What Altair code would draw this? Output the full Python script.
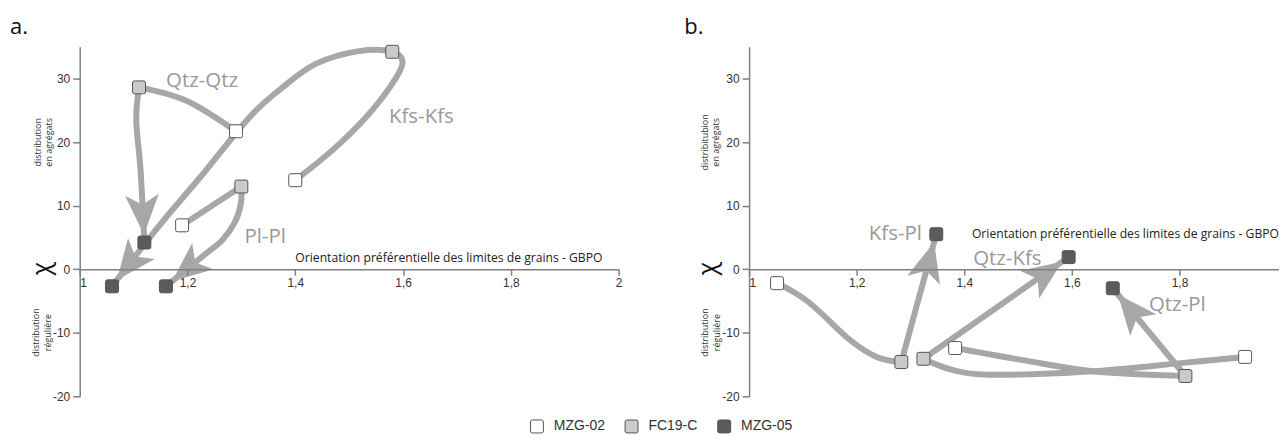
import math
import altair as alt
import pandas as pd

# ---------------- data ----------------
SAMPLES = ["MZG-02", "FC19-C", "MZG-05"]
SAMPLE_FILLS = ["#ffffff", "#c9cacd", "#5b5b5b"]

# panel a : GBPO (x) and chi (y) of each sample for the three pairs
A_MZG02_X = [1.19, 1.29, 1.40]
A_MZG02_Y = [6.9, 21.7, 14.0]
A_FC19C_X = [1.11, 1.30, 1.58]
A_FC19C_Y = [28.6, 13.0, 34.2]
A_MZG05_X = [1.12, 1.06, 1.16]
A_MZG05_Y = [4.2, -2.7, -2.7]

# panel b
B_MZG02_X = [1.052, 1.383, 1.922]
B_MZG02_Y = [-2.2, -12.4, -13.8]
B_FC19C_X = [1.283, 1.324, 1.811]
B_FC19C_Y = [-14.6, -14.1, -16.8]
B_MZG05_X = [1.348, 1.594, 1.676]
B_MZG05_Y = [5.5, 1.9, -3.0]

# path waypoints of the connecting curves
A_QTZ_QTZ_1 = [(1.29, 21.7), (1.198, 26.5), (1.11, 28.6)]
A_QTZ_QTZ_2 = [(1.11, 28.6), (1.105, 23.4), (1.113, 15.5), (1.12, 4.2)]
A_KFS_KFS = [(1.40, 14.0), (1.468, 18.65), (1.530, 23.8), (1.577, 28.8), (1.599, 32.4),
             (1.58, 34.2), (1.518, 34.3), (1.438, 32.3), (1.375, 28.5), (1.314, 23.8),
             (1.222, 14.3), (1.148, 6.9), (1.06, -2.7)]
A_PL_PL_1 = [(1.19, 6.9), (1.30, 13.0)]
A_PL_PL_2 = [(1.30, 13.0), (1.299, 10.3), (1.288, 7.4), (1.264, 4.5), (1.235, 2.5), (1.16, -2.7)]

B_KFS_PL_1 = [(1.052, -2.2), (1.111, -5.2), (1.187, -11.1), (1.237, -13.8), (1.283, -14.6)]
B_KFS_PL_2 = [(1.283, -14.6), (1.348, 5.5)]
B_QTZ_KFS_1 = [(1.922, -13.8), (1.811, -14.7), (1.631, -16.1), (1.446, -16.6), (1.376, -15.8), (1.324, -14.1)]
B_QTZ_KFS_2 = [(1.324, -14.1), (1.594, 1.9)]
B_QTZ_PL_1 = [(1.383, -12.4), (1.509, -14.3), (1.644, -16.1), (1.811, -16.8)]
B_QTZ_PL_2 = [(1.811, -16.8), (1.676, -3.0)]

A_PAIRS = ["Qtz-Qtz", "Kfs-Kfs", "Pl-Pl"]
A_PAIR_X = [1.227, 1.634, 1.344]
A_PAIR_Y = [29.6, 24.0, 5.0]
B_PAIRS = ["Kfs-Pl", "Qtz-Kfs", "Qtz-Pl"]
B_PAIR_X = [1.272, 1.480, 1.796]
B_PAIR_Y = [5.5, 1.6, -5.6]

X_TICKS_A = [1, 1.2, 1.4, 1.6, 1.8, 2]
X_TICKS_B = [1, 1.2, 1.4, 1.6, 1.8]
Y_TICKS = [-20, -10, 0, 10, 20, 30]
GBPO_TITLE = "Orientation préférentielle des limites de grains - GBPO"

# ---------------- styling ----------------
ARROW_COL = "#a7a7a7"
LABEL_COL = "#999999"
AXIS_COL = "#808080"
MYRIAD = "'Open Sans', 'Noto Sans', sans-serif"
NARROW = "'Liberation Sans Narrow', 'Liberation Sans', Arial, sans-serif"
ROUNDED = ("M-1,-0.7 Q-1,-1 -0.7,-1 L0.7,-1 Q1,-1 1,-0.7 L1,0.7 Q1,1 0.7,1 "
           "L-0.7,1 Q-1,1 -1,0.7 Z")
ARROW_HEAD = "M0,8 L17,48 L0,38 L-17,48 Z"

H = 351
Y_DOM = [-20, 35]
KY = H / (Y_DOM[1] - Y_DOM[0])


def points_frame(xs_list, ys_list):
    rows = []
    for s, xs, ys in zip(SAMPLES, xs_list, ys_list):
        for x, y in zip(xs, ys):
            rows.append({"x": x, "y": y, "sample": s})
    return pd.DataFrame(rows)


def seg_frame(segs):
    rows = []
    for k, pts in enumerate(segs):
        for i, (x, y) in enumerate(pts):
            rows.append({"seg": k, "i": i, "x": x, "y": y})
    return pd.DataFrame(rows)


def arrow_frame(segs, kx):
    rows = []
    for pts in segs:
        (x1, y1), (x2, y2) = pts[-2], pts[-1]
        dx = (x2 - x1) * kx
        dy = -(y2 - y1) * KY
        ang = math.degrees(math.atan2(dx, -dy)) % 360
        rows.append({"x": x2, "y": y2, "angle": ang})
    return pd.DataFrame(rows)


def side_text(text, x, y):
    return alt.Chart(pd.DataFrame({"k": [0]})).mark_text(
        text=text, font=MYRIAD, fontSize=9, color="#333333", angle=270,
        align="center", baseline="middle"
    ).encode(x=alt.value(x), y=alt.value(y))


def panel(pts_df, segs, arrow_segs, pairs, pair_x, pair_y, xmax, width, ticks,
          gbpo_x, gbpo_y, letter, side_top, lx, side_x):
    kx = width / (xmax - 1)
    xs = alt.Scale(domain=[1, xmax], nice=False, zero=False)
    ys = alt.Scale(domain=Y_DOM, nice=False, zero=False)
    x_axis = alt.Axis(values=ticks, title=None, orient="bottom",
                      offset=-(0 - Y_DOM[0]) * KY, tickSize=6, labelPadding=2,
                      labelFlush=False, zindex=1,
                      labelExpr="replace(format(datum.value, '~g'), '.', ',')",
                      labelAlign={"condition": {"test": "datum.value == 1", "value": "left"},
                                  "value": "center"})
    y_axis = alt.Axis(values=Y_TICKS, title=None, tickSize=7, labelPadding=3,
                      labelExpr="'' + datum.value")
    X = alt.X("x:Q", scale=xs, axis=x_axis)
    Y = alt.Y("y:Q", scale=ys, axis=y_axis)
    Xn = alt.X("x:Q", scale=xs)
    Yn = alt.Y("y:Q", scale=ys)

    lines = alt.Chart(seg_frame(segs)).mark_line(
        interpolate="cardinal", strokeWidth=6, color=ARROW_COL, strokeCap="round"
    ).encode(x=X, y=Y, detail="seg:N", order="i:Q")

    heads = alt.Chart(arrow_frame(arrow_segs, kx)).mark_point(
        shape=ARROW_HEAD, filled=True, size=4, color=ARROW_COL, opacity=1
    ).encode(x=Xn, y=Yn, angle=alt.Angle("angle:Q", scale=None))

    legend = alt.Legend(orient="none", legendX=452, legendY=374, direction="horizontal",
                        title=None, symbolType=ROUNDED, symbolSize=169,
                        symbolStrokeColor="#555555", symbolStrokeWidth=1,
                        labelFont=NARROW, labelFontSize=14, labelColor="#333333",
                        labelOffset=10, columnPadding=17, padding=0)
    squares = alt.Chart(pts_df).mark_point(
        shape=ROUNDED, filled=True, size=169, stroke="#555555", strokeWidth=1, opacity=1
    ).encode(x=Xn, y=Yn,
             fill=alt.Fill("sample:N", scale=alt.Scale(domain=SAMPLES, range=SAMPLE_FILLS),
                           sort=SAMPLES, legend=legend))

    pair_df = pd.DataFrame({"x": pair_x, "y": pair_y, "t": pairs})
    pair_txt = alt.Chart(pair_df).mark_text(
        font=MYRIAD, fontSize=20.5, color=LABEL_COL, align="center", baseline="middle"
    ).encode(x=Xn, y=Yn, text="t:N")

    gbpo = alt.Chart(pd.DataFrame({"x": [gbpo_x], "y": [gbpo_y], "t": [GBPO_TITLE]})).mark_text(
        font=MYRIAD, fontSize=12.2, color="#222222", align="right", baseline="alphabetic"
    ).encode(x=Xn, y=Yn, text="t:N")

    ann = pd.DataFrame({"k": [0]})
    letter_t = alt.Chart(ann).mark_text(
        text=letter, font=MYRIAD, fontSize=22, color="#111111", align="left",
        baseline="alphabetic").encode(x=alt.value(lx), y=alt.value(-13))
    s1 = side_text(side_top[0], side_x[0], 96)
    s2 = side_text(side_top[1], side_x[1], 96)
    s3 = side_text("distribution", side_x[2], 287)
    s4 = side_text("régulière", side_x[3], 287)
    chi = alt.Chart(ann).mark_text(
        text="χ", font=MYRIAD, fontSize=25, color="#111111", angle=270,
        align="center", baseline="middle"
    ).encode(x=alt.value(side_x[4]), y=alt.value(223))

    return alt.layer(lines, heads, squares, pair_txt, gbpo, letter_t, s1, s2, s3, s4, chi
                     ).properties(width=width, height=H)


pa = panel(points_frame([A_MZG02_X, A_FC19C_X, A_MZG05_X], [A_MZG02_Y, A_FC19C_Y, A_MZG05_Y]),
           [A_QTZ_QTZ_1, A_QTZ_QTZ_2, A_KFS_KFS, A_PL_PL_1, A_PL_PL_2],
           [A_QTZ_QTZ_2, A_KFS_KFS, A_PL_PL_2],
           A_PAIRS, A_PAIR_X, A_PAIR_Y, 2.0, 541, X_TICKS_A,
           1.970, 1.1, "a.", ["distribution", "en agrégats"], -70,
           [-41.5, -31, -44, -31.5, -38])
pb = panel(points_frame([B_MZG02_X, B_FC19C_X, B_MZG05_X], [B_MZG02_Y, B_FC19C_Y, B_MZG05_Y]),
           [B_KFS_PL_1, B_KFS_PL_2, B_QTZ_KFS_1, B_QTZ_KFS_2, B_QTZ_PL_1, B_QTZ_PL_2],
           [B_KFS_PL_2, B_QTZ_KFS_2, B_QTZ_PL_2],
           B_PAIRS, B_PAIR_X, B_PAIR_Y, 1.985, 532, X_TICKS_B,
           1.985, 4.9, "b.", ["distribitubion", "en agrégats"], -65,
           [-44.5, -33, -44.5, -32, -41])

chart = alt.hconcat(pa, pb, spacing=131, bounds="flush").properties(
    padding={"left": 2, "top": 7, "right": 0, "bottom": 4}
).configure_view(stroke=None).configure_axis(
    domainColor=AXIS_COL, domainWidth=1.5, tickColor=AXIS_COL, tickWidth=1.5,
    labelColor="#333333", labelFont=NARROW, labelFontSize=12, grid=False
)

chart.save("out.html", embed_options={"renderer": "svg", "actions": False})
